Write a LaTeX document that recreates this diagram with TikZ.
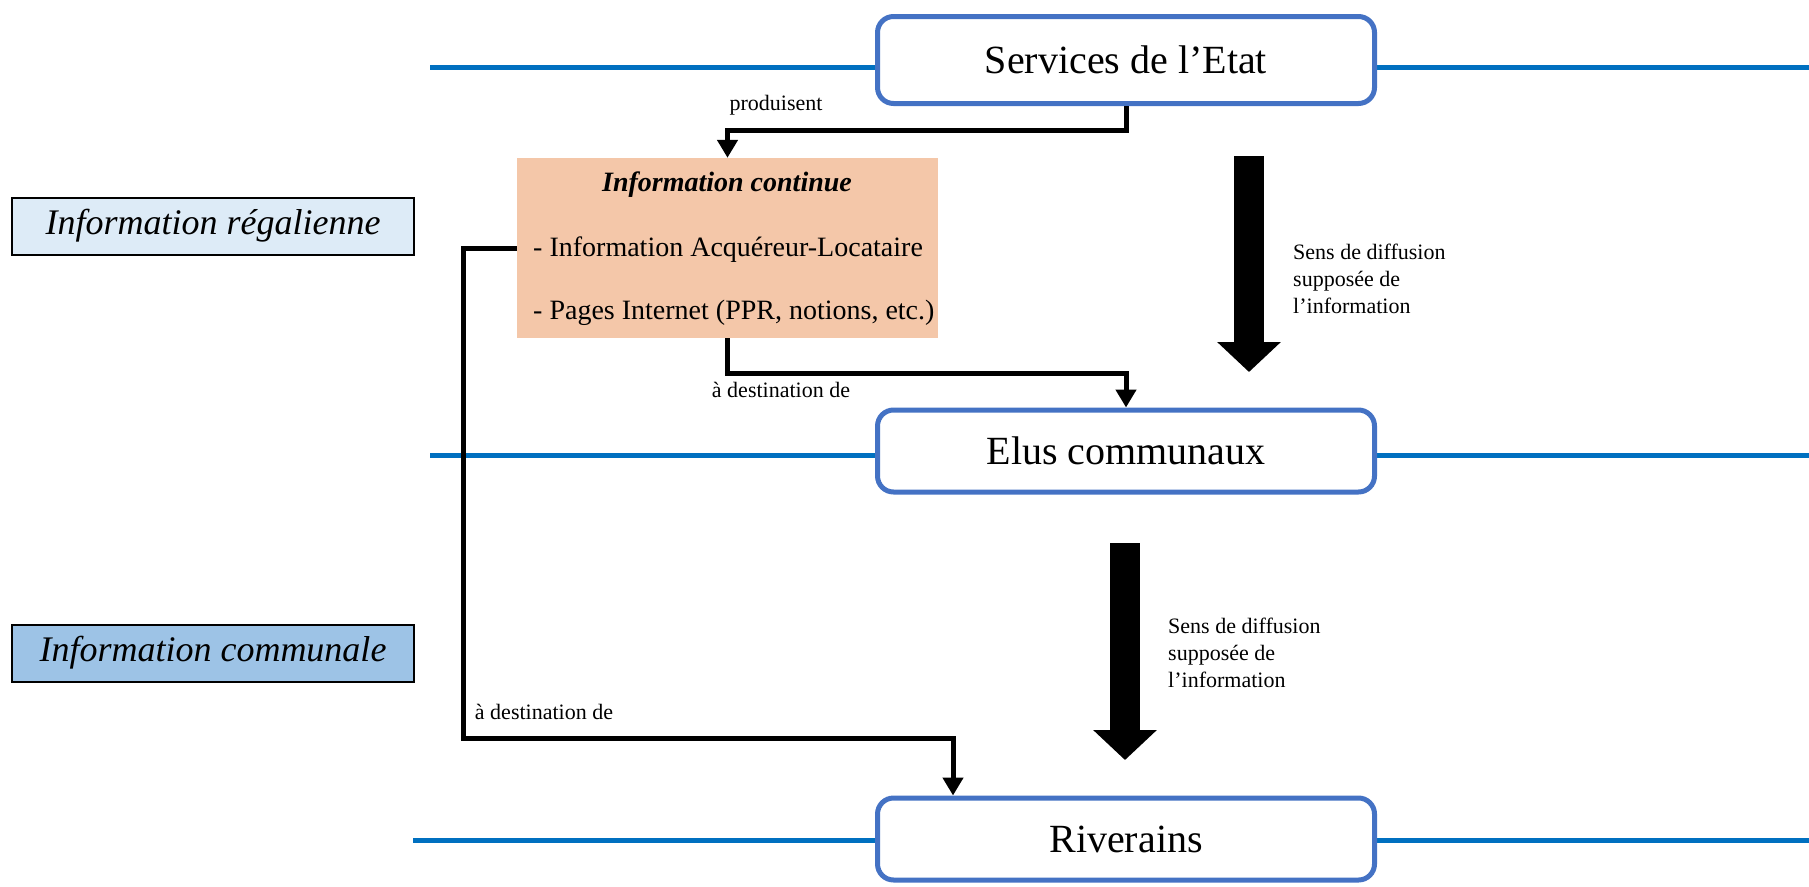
\documentclass[tikz,border=0pt]{standalone}
\usepackage{fontspec}
\setmainfont{Liberation Serif}
\usetikzlibrary{arrows.meta}
\definecolor{cadre}{HTML}{4472C4}
\definecolor{bleutrait}{HTML}{0070C0}
\definecolor{saumon}{HTML}{F4C7A9}
\definecolor{bleuclair}{HTML}{DDEBF7}
\definecolor{bleumoyen}{HTML}{9DC3E6}
\begin{document}
\begin{tikzpicture}[x=1pt, y=-1pt,
            acteur/.style={draw=cadre, fill=white, line width=5pt, rounded corners=16pt, minimum width=497pt, minimum height=82pt, font=\fontsize{40}{48}\selectfont},
            niveau/.style={draw=bleutrait, line width=5pt},
            categorie/.style={draw=black, line width=2pt, minimum width=402pt, minimum height=57pt, font=\fontsize{36}{43}\selectfont\itshape},
            lien/.style={line width=5pt, -{Triangle[width=20pt, length=18pt]}},
            sens/.style={line width=30pt, -{Triangle[width=62pt, length=30pt]}},
            etiquette/.style={inner sep=0pt, font=\fontsize{22}{27}\selectfont},
            texte/.style={inner sep=0pt, font=\fontsize{28}{34}\selectfont}
        ]
            \useasboundingbox (0,0) rectangle (1809,886);

            \coordinate (n1a) at (430,67);
            \coordinate (n1b) at (1809,67);
            \coordinate (n2a) at (430,455);
            \coordinate (n2b) at (1809,455);
            \coordinate (n3a) at (413,840);
            \coordinate (n3b) at (1809,840);
            \draw[niveau] (n1a)--(n1b);
            \draw[niveau] (n2a)--(n2b);
            \draw[niveau] (n3a)--(n3b);

            \node[acteur, minimum height=87pt] (etat) at (1126,60) {Services de l’Etat};
            \node[acteur] (elus) at (1126,451) {Elus communaux};
            \node[acteur] (riv)  at (1126,839) {Riverains};

            \node[categorie, fill=bleuclair] (regal) at (213,226) {Information régalienne};
            \node[categorie, fill=bleumoyen] (comm)  at (213,653) {Information communale};

            \node[fill=saumon, minimum width=421pt, minimum height=180pt, inner sep=0pt] (info) at (727.5,248) {};
            \node[texte, font=\fontsize{28}{34}\selectfont\bfseries\itshape] (infoT) at (727,185) {Information continue};
            \node[texte, anchor=west] (infoA) at (533,250) {- Information Acquéreur-Locataire};
            \node[texte, anchor=west] (infoB) at (533,313) {- Pages Internet (PPR, notions, etc.)};

            \coordinate (c1) at (463,738);
            \draw[lien] (etat.south) -- ++(0,24) -| (info.north);
            \draw[lien] (info.south) -- ++(0,35) -| (elus.north);
            \draw[lien] (info.west) -| (c1) -| ([xshift=78pt]riv.north west);

            \node[etiquette] (prod) at (776,105) {produisent};
            \node[etiquette] (dest1) at (781,390) {à destination de};
            \node[etiquette] (dest2) at (544,712) {à destination de};

            \coordinate (fA1) at (1249,156);
            \coordinate (fA2) at (1249,372);
            \coordinate (fB1) at (1125,543);
            \coordinate (fB2) at (1125,760);
            \draw[sens] (fA1)--(fA2);
            \draw[sens] (fB1)--(fB2);

            \node[etiquette, anchor=west, align=left] (sensA) at (1293,279) {Sens de diffusion\\supposée de\\l’information};
            \node[etiquette, anchor=west, align=left] (sensB) at (1168,653) {Sens de diffusion\\supposée de\\l’information};
        \end{tikzpicture}
\end{document}
